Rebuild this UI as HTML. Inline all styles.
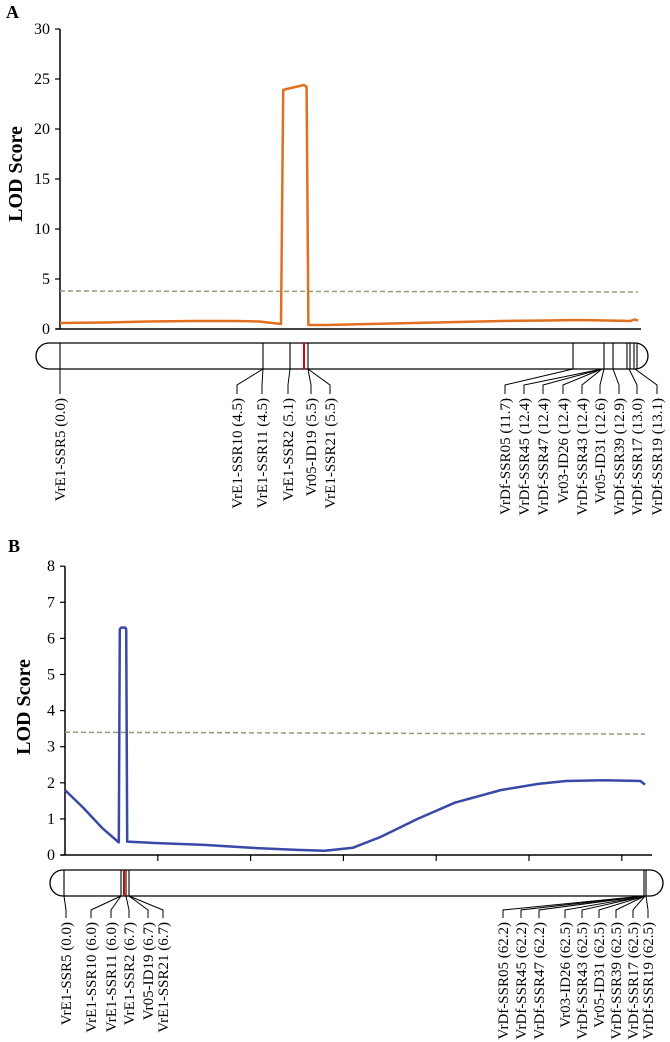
<!DOCTYPE html>
<html><head><meta charset="utf-8"><style>
html,body{margin:0;padding:0;background:#fff;}
svg{display:block;font-family:"Liberation Serif",serif;}
</style></head><body>
<svg id="c" width="670" height="1042" viewBox="0 0 670 1042"></svg>
<script>
// ---- Panel A data ----
const aTicks=[0,5,10,15,20,25,30];
const aCM=[0,1,2,3,4,4.5,5.0,5.05,5.13,5.52,5.58,5.62,6,7,8,9,10,11,11.7,12.4,12.9,13.0,13.08];
const aLOD=[0.6,0.65,0.75,0.8,0.8,0.75,0.5,23.9,24.0,24.4,24.2,0.4,0.4,0.5,0.6,0.7,0.8,0.85,0.9,0.85,0.8,0.95,0.85];
const aThr=[3.8,3.7];
const aMarkX=[60,263,290,304,308,573,604,613,627,630,634,637];
const aMarkRed=[0,0,0,1,0,0,0,0,0,0,0,0];
const aLabels=["VrE1-SSR5 (0.0)","VrE1-SSR10 (4.5)","VrE1-SSR11 (4.5)","VrE1-SSR2 (5.1)","Vr05-ID19 (5.5)","VrE1-SSR21 (5.5)","VrDf-SSR05 (11.7)","VrDf-SSR45 (12.4)","VrDf-SSR47 (12.4)","Vr03-ID26 (12.4)","VrDf-SSR43 (12.4)","Vr05-ID31 (12.6)","VrDf-SSR39 (12.9)","VrDf-SSR17 (13.0)","VrDf-SSR19 (13.1)"];
const aLabelX=[60,237,262,288,311,330,505,524,543,563,582,600,619,637,657];
const aLabelFrom=[60,263,263,290,308,308,573,602,602,602,602,604,613,629,635];
// ---- Panel B data ----
const bTicks=[0,1,2,3,4,5,6,7,8];
const bCM=[0,2,4,5.8,5.9,6.05,6.5,6.6,6.7,10,15,20,25,28,31,34,38,42,47,51,54,58,62,62.5];
const bLOD=[1.8,1.3,0.75,0.35,6.25,6.3,6.3,6.25,0.37,0.33,0.28,0.2,0.14,0.12,0.2,0.5,1.0,1.45,1.8,1.97,2.05,2.07,2.05,1.95];
const bThr=[3.4,3.35];
const bXTicks=[10,20,30,40,50,60];
const bMarkX=[64,121,124,126,129,644,646];
const bMarkRed=[0,0,1,0,0,0,0];
const bLabels=["VrE1-SSR5 (0.0)","VrE1-SSR10 (6.0)","VrE1-SSR11 (6.0)","VrE1-SSR2 (6.7)","Vr05-ID19 (6.7)","VrE1-SSR21 (6.7)","VrDf-SSR05 (62.2)","VrDf-SSR45 (62.2)","VrDf-SSR47 (62.2)","Vr03-ID26 (62.5)","VrDf-SSR43 (62.5)","Vr05-ID31 (62.5)","VrDf-SSR39 (62.5)","VrDf-SSR17 (62.5)","VrDf-SSR19 (62.5)"];
const bLabelX=[66,91,111,129,148,163,503,521,539,565,582,599,616,633,648];
const bLabelFrom=[64,121,121,126,129,129,644,644,644,645,645,645,645,645,646];

const svg=document.getElementById('c');
const NS='http://www.w3.org/2000/svg';
function el(t,a,txt){const e=document.createElementNS(NS,t);for(const k in a)e.setAttribute(k,a[k]);if(txt!==undefined)e.textContent=txt;svg.appendChild(e);return e;}

function panel(o){
  const ys=v=>o.y0-(v-0)*o.yU;
  const xs=c=>o.x0+c*o.xU;
  let t=el('text',{x:o.lx,y:o.ly,'font-weight':'bold','font-size':18});t.textContent=o.letter;
  
  
  let ax=el('line',{x1:o.x0,y1:ys(o.ticks[o.ticks.length-1]),x2:o.x0,y2:o.y0,stroke:'#000','stroke-width':1.5});
  
  let bx=el('line',{x1:o.x0-4,y1:o.y0,x2:o.xEnd,y2:o.y0,stroke:'#000','stroke-width':1.5});
  
  o.ticks.forEach(v=>{
    el('line',{x1:o.x0-5,y1:ys(v),x2:o.x0,y2:ys(v),stroke:'#000','stroke-width':1.2});
    let tl=el('text',{x:o.x0-10,y:ys(v)+5,'text-anchor':'end','font-size':16},String(v));
    
  });
  (o.xTicks||[]).forEach(c=>{el('line',{x1:xs(c),y1:o.y0,x2:xs(c),y2:o.y0+6,stroke:'#000','stroke-width':1.2});});
  let yt=el('text',{x:0,y:0,transform:`translate(${o.tx},${o.ty}) rotate(-90)`,'text-anchor':'middle','font-weight':'bold','font-size':20},'LOD Score');
  
  let th=el('line',{x1:o.x0,y1:ys(o.thr[0]),x2:xs(o.cm[o.cm.length-1]),y2:ys(o.thr[1]),stroke:'#9a9a7a','stroke-width':1.5,'stroke-dasharray':'5,3'});
  
  const d=o.cm.map((c,i)=>(i?'L':'M')+xs(c).toFixed(1)+','+ys(o.lod[i]).toFixed(1)).join(' ');
  let p=el('path',{d:d,fill:'none',stroke:o.color,'stroke-width':2.5,'stroke-linejoin':'round'});
  
  const cT=o.cT,cB=o.cB,r=(cB-cT)/2;
  let ch=el('path',{d:`M${o.cL+r},${cT} L${o.cR-r},${cT} A${r},${r} 0 0 1 ${o.cR-r},${cB} L${o.cL+r},${cB} A${r},${r} 0 0 1 ${o.cL+r},${cT} Z`,fill:'#fff',stroke:'#000','stroke-width':1.3});
  
  o.markX.forEach((x,i)=>{
    let m=el('line',{x1:x,y1:cT,x2:x,y2:cB,stroke:o.markRed[i]?'#d00':'#000','stroke-width':o.markRed[i]?2:1.1});
    
  });
  o.labels.forEach((s,i)=>{
    const lx=o.labelX[i],fx=o.labelFrom[i];
    el('polyline',{points:`${fx},${cB} ${lx},${o.knee} ${lx},${o.lTop-4}`,fill:'none',stroke:'#000','stroke-width':1});
    let tx=el('text',{x:0,y:0,transform:`translate(${lx+5},${o.lTop}) rotate(-90)`,'text-anchor':'end','font-size':15},s);
    
  });
}
panel({letter:'A',lx:6,ly:18,x0:60,y0:329,yU:10,xU:44.2,xEnd:641,ticks:aTicks,cm:aCM,lod:aLOD,thr:aThr,color:'#e07020',tx:22,ty:174,
  cL:36,cR:648,cT:343,cB:369,markX:aMarkX,markRed:aMarkRed,labels:aLabels,labelX:aLabelX,labelFrom:aLabelFrom,knee:385,lTop:398});
panel({letter:'B',lx:8,ly:552,x0:65,y0:855,yU:36.1,xU:9.28,xEnd:652,xTicks:bXTicks,ticks:bTicks,cm:bCM,lod:bLOD,thr:bThr,color:'#3a48a8',tx:30,ty:707,
  cL:50,cR:663,cT:870,cB:896,markX:bMarkX,markRed:bMarkRed,labels:bLabels,labelX:bLabelX,labelFrom:bLabelFrom,knee:910,lTop:922});
</script>
</body></html>
